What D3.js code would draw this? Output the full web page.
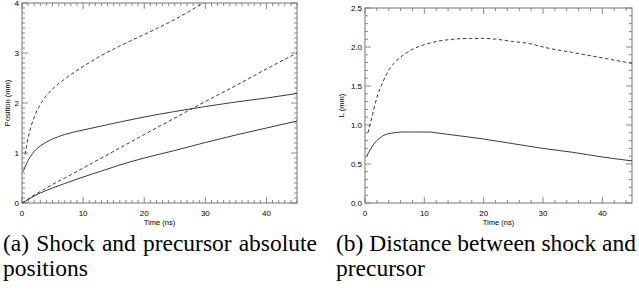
<!DOCTYPE html>
<meta charset="utf-8">
<style>
  body { margin: 0; background: #fff; }
  .frame { fill: none; stroke: #777; stroke-width: 1; }
  .tick { stroke: #888; stroke-width: 1; }
  .curve { fill: none; stroke: #3a3a3a; stroke-width: 1; }
  .dashed { stroke-dasharray: 3.5,2.5; }
</style>
<body>
<script src="https://d3js.org/d3.v7.min.js"></script>
<script>

// ---- data ----
// (a) absolute positions, mm vs time in ns
var precFarTime = [0.5, 1, 2, 3, 4, 5, 7, 10, 13, 16, 20, 25, 30, 35];
var precFarPos  = [0.97, 1.3, 1.72, 1.97, 2.15, 2.28, 2.48, 2.73, 2.95, 3.14, 3.37, 3.67, 4.02, 4.33];

var shockFarTime = [0.2, 0.5, 1, 2, 3, 4, 5, 7, 10, 13, 16, 20, 25, 30, 35, 40, 45];
var shockFarPos  = [0.63, 0.72, 0.85, 1.03, 1.14, 1.22, 1.28, 1.37, 1.46, 1.54, 1.62, 1.72, 1.83, 1.93, 2.02, 2.1, 2.19];

var precNearTime = [0, 0.5, 1, 2, 3, 5, 7, 10, 13, 16, 20, 25, 30, 35, 40, 45];
var precNearPos  = [0, 0.04, 0.08, 0.16, 0.23, 0.37, 0.5, 0.7, 0.9, 1.1, 1.37, 1.7, 2.03, 2.35, 2.68, 3.0];

var shockNearTime = [0, 0.5, 1, 2, 3, 5, 7, 10, 13, 16, 20, 25, 30, 35, 40, 45];
var shockNearPos  = [0, 0.03, 0.07, 0.14, 0.2, 0.3, 0.39, 0.52, 0.64, 0.76, 0.9, 1.05, 1.21, 1.36, 1.5, 1.64];

// (b) distance between shock and precursor, mm vs time in ns
var distFarTime = [0.5, 1, 2, 3, 4, 5, 6, 8, 10, 12, 15, 18, 20, 22, 25, 28, 30, 35, 40, 45];
var distFarL    = [0.9, 1.05, 1.35, 1.55, 1.7, 1.8, 1.87, 1.97, 2.03, 2.07, 2.1, 2.11, 2.11, 2.1, 2.07, 2.04, 2.0, 1.93, 1.86, 1.79];

var distNearTime = [0.3, 1, 2, 3, 4, 5, 6, 8, 10, 11, 12, 15, 20, 25, 30, 35, 40, 45];
var distNearL    = [0.6, 0.7, 0.8, 0.86, 0.89, 0.9, 0.91, 0.91, 0.91, 0.91, 0.9, 0.87, 0.82, 0.76, 0.7, 0.65, 0.59, 0.54];

var timeTicks = [0, 10, 20, 30, 40];
var posTicks = [0, 1, 2, 3, 4];
var distTicks = [0, 0.5, 1.0, 1.5, 2.0, 2.5];

var captionA = ["(a) Shock and precursor absolute", "positions"];
var captionB = ["(b) Distance between shock and", "precursor"];

// ---- drawing ----
var svg = d3.select("body").append("svg")
  .attr("width", 639)
  .attr("height", 290);

function zip(ts, vs) {
  return ts.map(function (t, i) { return [t, vs[i]]; });
}

function drawPanel(o) {
  var x = d3.scaleLinear().domain([0, 45]).range([o.left, o.right]);
  var y = d3.scaleLinear().domain(o.yDomain).range([o.bottom, o.top]);
  var g = svg.append("g");

  // ticks on all four sides, pointing inward
  var xMinor = d3.range(0, 45.001, o.xMinorStep);
  var yMinor = d3.range(o.yDomain[0], o.yDomain[1] + 1e-6, o.yMinorStep);
  xMinor.forEach(function (t) {
    var major = timeTicks.some(function (m) { return Math.abs(m - t) < 1e-6; });
    var len = major ? 6 : 3;
    g.append("line").attr("class", "tick")
      .attr("x1", x(t)).attr("x2", x(t)).attr("y1", o.bottom).attr("y2", o.bottom - len);
    g.append("line").attr("class", "tick")
      .attr("x1", x(t)).attr("x2", x(t)).attr("y1", o.top).attr("y2", o.top + len);
  });
  yMinor.forEach(function (v) {
    var major = o.yTicks.some(function (m) { return Math.abs(m - v) < 1e-6; });
    var len = major ? 6 : 3;
    g.append("line").attr("class", "tick")
      .attr("y1", y(v)).attr("y2", y(v)).attr("x1", o.left).attr("x2", o.left + len);
    g.append("line").attr("class", "tick")
      .attr("y1", y(v)).attr("y2", y(v)).attr("x1", o.right).attr("x2", o.right - len);
  });

  g.append("rect").attr("class", "frame")
    .attr("x", o.left).attr("y", o.top)
    .attr("width", o.right - o.left).attr("height", o.bottom - o.top);

  // tick labels
  g.selectAll(".xl").data(timeTicks).enter().append("text")
    .attr("font-family", "Liberation Sans").attr("font-size", 8)
    .attr("x", function (d) { return x(d); })
    .attr("y", o.bottom + 13)
    .attr("text-anchor", "middle")
    .text(function (d) { return d; });
  g.selectAll(".yl").data(o.yTicks).enter().append("text")
    .attr("font-family", "Liberation Sans").attr("font-size", 8)
    .attr("x", o.left - 3)
    .attr("y", function (d) { return y(d) + 3; })
    .attr("text-anchor", "end")
    .text(o.yFormat);

  g.append("text")
    .attr("font-family", "Liberation Sans").attr("font-size", 7.5)
    .attr("x", (o.left + o.right) / 2).attr("y", o.bottom + 22)
    .attr("text-anchor", "middle").text("Time (ns)");
  g.append("text")
    .attr("font-family", "Liberation Sans").attr("font-size", 7.5)
    .attr("transform", "translate(" + o.yTitleX + "," + ((o.top + o.bottom) / 2) + ") rotate(-90)")
    .attr("text-anchor", "middle").text(o.yTitle);

  // curves
  var clipId = "clip" + Math.round(o.left);
  svg.append("clipPath").attr("id", clipId).append("rect")
    .attr("x", o.left).attr("y", o.top)
    .attr("width", o.right - o.left).attr("height", o.bottom - o.top);
  var line = d3.line()
    .x(function (d) { return x(d[0]); })
    .y(function (d) { return y(d[1]); })
    .curve(d3.curveMonotoneX);
  o.series.forEach(function (s) {
    g.append("path")
      .attr("class", "curve" + (s.dashed ? " dashed" : ""))
      .attr("clip-path", "url(#" + clipId + ")")
      .attr("d", line(s.data));
  });
}

drawPanel({
  left: 22, right: 297, top: 3, bottom: 203,
  yDomain: [0, 4], yTicks: posTicks, yFormat: d3.format("d"),
  xMinorStep: 1, yMinorStep: 0.1,
  yTitle: "Position (mm)", yTitleX: 10,
  series: [
    { data: zip(precFarTime, precFarPos), dashed: true },
    { data: zip(shockFarTime, shockFarPos), dashed: false },
    { data: zip(precNearTime, precNearPos), dashed: true },
    { data: zip(shockNearTime, shockNearPos), dashed: false }
  ]
});

drawPanel({
  left: 365, right: 632, top: 8, bottom: 203,
  yDomain: [0, 2.5], yTicks: distTicks, yFormat: d3.format(".1f"),
  xMinorStep: 2, yMinorStep: 0.1,
  yTitle: "L (mm)", yTitleX: 344,
  series: [
    { data: zip(distFarTime, distFarL), dashed: true },
    { data: zip(distNearTime, distNearL), dashed: false }
  ]
});

// justified captions, set in a serif face
function caption(lines, x0, x1, y0) {
  lines.forEach(function (line, i) {
    var words = line.split(" ");
    var yy = y0 + i * 25;
    if (i === lines.length - 1) {
      svg.append("text")
        .attr("font-family", "Liberation Serif").attr("font-size", 23.5)
        .attr("x", x0).attr("y", yy).text(line);
      return;
    }
    var nodes = words.map(function (w) {
      return svg.append("text")
        .attr("font-family", "Liberation Serif").attr("font-size", 23.5)
        .attr("y", yy).text(w);
    });
    var widths = nodes.map(function (n) { return n.node().getComputedTextLength(); });
    var gap = (x1 - x0 - d3.sum(widths)) / (words.length - 1);
    var cx = x0;
    nodes.forEach(function (n, k) {
      n.attr("x", cx);
      cx += widths[k] + gap;
    });
  });
}

caption(captionA, 3, 317, 251);
caption(captionB, 336, 636, 251);

</script>
</body>
